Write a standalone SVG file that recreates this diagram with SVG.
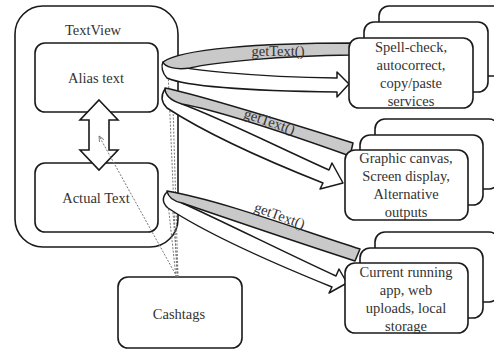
<svg xmlns="http://www.w3.org/2000/svg" width="494" height="352" viewBox="0 0 494 352">
<style>
.box{fill:#fff;stroke:#1a1a1a;stroke-width:1.6}
text{font-family:'Liberation Serif','Times New Roman',serif;font-size:14.5px;fill:#333;text-anchor:middle}
.rib{stroke:#1a1a1a;stroke-width:1.5;stroke-linejoin:round}
.gray{fill:#c9c9c9}
.white{fill:#fff}
.dot{fill:none;stroke:#777;stroke-width:1;stroke-dasharray:2 1.5}
</style>
<defs>
<marker id="oa" viewBox="0 0 6 6" refX="5.5" refY="3" markerWidth="6" markerHeight="6" orient="auto" markerUnits="userSpaceOnUse">
<path d="M0,0.5 L5.5,3 L0,5.5" fill="none" stroke="#777" stroke-width="0.9"/>
</marker>
</defs>

<g id="textview">
<rect class="box" x="15" y="6" width="163" height="241" rx="28"/>
<text x="93" y="35" font-family="Liberation Serif, serif" font-size="13.5">TextView</text>
</g>
<g id="alias">
<rect class="box" x="35" y="43" width="123" height="69" rx="10"/>
<text x="96" y="83" font-family="Liberation Serif, serif" font-size="15">Alias text</text>
</g>
<g id="actual">
<rect class="box" x="35" y="163" width="123" height="69" rx="10"/>
<text x="96" y="203" font-family="Liberation Serif, serif">Actual Text</text>
</g>
<g id="cashtags">
<rect class="box" x="118" y="277" width="124" height="71" rx="10"/>
<text x="179" y="319" font-family="Liberation Serif, serif">Cashtags</text>
</g>

<g id="stack1">
<rect class="box" x="379" y="6" width="124" height="70" rx="10"/>
<rect class="box" x="364" y="22" width="124" height="70" rx="10"/>
</g>
<g id="stack2">
<rect class="box" x="375" y="119" width="124" height="70" rx="10"/>
<rect class="box" x="360" y="135" width="123" height="70" rx="10"/>
</g>
<g id="stack3">
<rect class="box" x="375" y="232" width="124" height="70" rx="10"/>
<rect class="box" x="360" y="248" width="123" height="70" rx="10"/>
</g>

<g id="connectors">
<path class="box" d="M99,100 L118,120 L109,120 L109,150 L118,150 L99,170 L80,150 L89,150 L89,120 L80,120 Z"/>
<path class="dot" d="M177,277 L99,136" marker-end="url(#oa)"/>
<path class="dot" d="M177,277 L168,70" marker-end="url(#oa)"/>
<path class="dot" d="M178,277 L173,106" marker-end="url(#oa)"/>
<path class="dot" d="M176,277 L168,203"/>
<path class="dot" d="M178,277 L172,200"/>

<path class="rib white" d="M163,62 C175,70 260,77 337,78 L337,72 L349,84 L337,97 L337,92 C260,91 190,88 167,78 C162,73 161,66 163,62 Z"/>
<path class="rib gray" d="M163,62 C180,49 260,43 352,43 L352,55 C280,56 215,62 190,68 C175,70 165,67 163,62 Z"/>
<text x="278" y="56" font-family="Liberation Serif, serif" font-size="14">getText()</text>

<path class="rib white" d="M165,89 C161,95 161,102 167,108 C210,136 280,166 323,183 L320,189 L343,183 L332,163 L329,170 C280,148 220,118 182,104 Z"/>
<path class="rib gray" d="M165,88 C200,95 280,120 353,143 L350,156 C280,131 215,110 182,104 C172,101 165,96 165,88 Z"/>
<text x="0" y="0" font-family="Liberation Serif, serif" font-size="14" transform="translate(268,126) rotate(19)">getText()</text>

<path class="rib white" d="M167,192 C162,197 162,203 168,208 C210,236 290,270 332,287 L329,293 L347,283 L339,269 L336,276 C290,255 220,220 182,203 Z"/>
<path class="rib gray" d="M167,191 C220,200 300,230 360,249 L355,261 C290,240 220,216 182,203 C173,201 168,197 167,191 Z"/>
<text x="0" y="0" font-family="Liberation Serif, serif" font-size="14" transform="translate(278,220) rotate(20)">getText()</text>
</g>

<g id="front1">
<rect class="box" x="349" y="38" width="124" height="70" rx="10"/>
<text x="411" y="52" font-family="Liberation Serif, serif">Spell-check,</text>
<text x="411" y="70" font-family="Liberation Serif, serif">autocorrect,</text>
<text x="411" y="88" font-family="Liberation Serif, serif">copy/paste</text>
<text x="411" y="106" font-family="Liberation Serif, serif">services</text>
</g>
<g id="front2">
<rect class="box" x="345" y="150" width="123" height="70" rx="10"/>
<text x="406" y="163" font-family="Liberation Serif, serif">Graphic canvas,</text>
<text x="406" y="181" font-family="Liberation Serif, serif">Screen display,</text>
<text x="406" y="199" font-family="Liberation Serif, serif">Alternative</text>
<text x="406" y="217" font-family="Liberation Serif, serif">outputs</text>
</g>
<g id="front3">
<rect class="box" x="345" y="263" width="123" height="70" rx="10"/>
<text x="406" y="277" font-family="Liberation Serif, serif">Current running</text>
<text x="406" y="295" font-family="Liberation Serif, serif">app, web</text>
<text x="406" y="313" font-family="Liberation Serif, serif">uploads, local</text>
<text x="406" y="331" font-family="Liberation Serif, serif">storage</text>
</g>
</svg>
